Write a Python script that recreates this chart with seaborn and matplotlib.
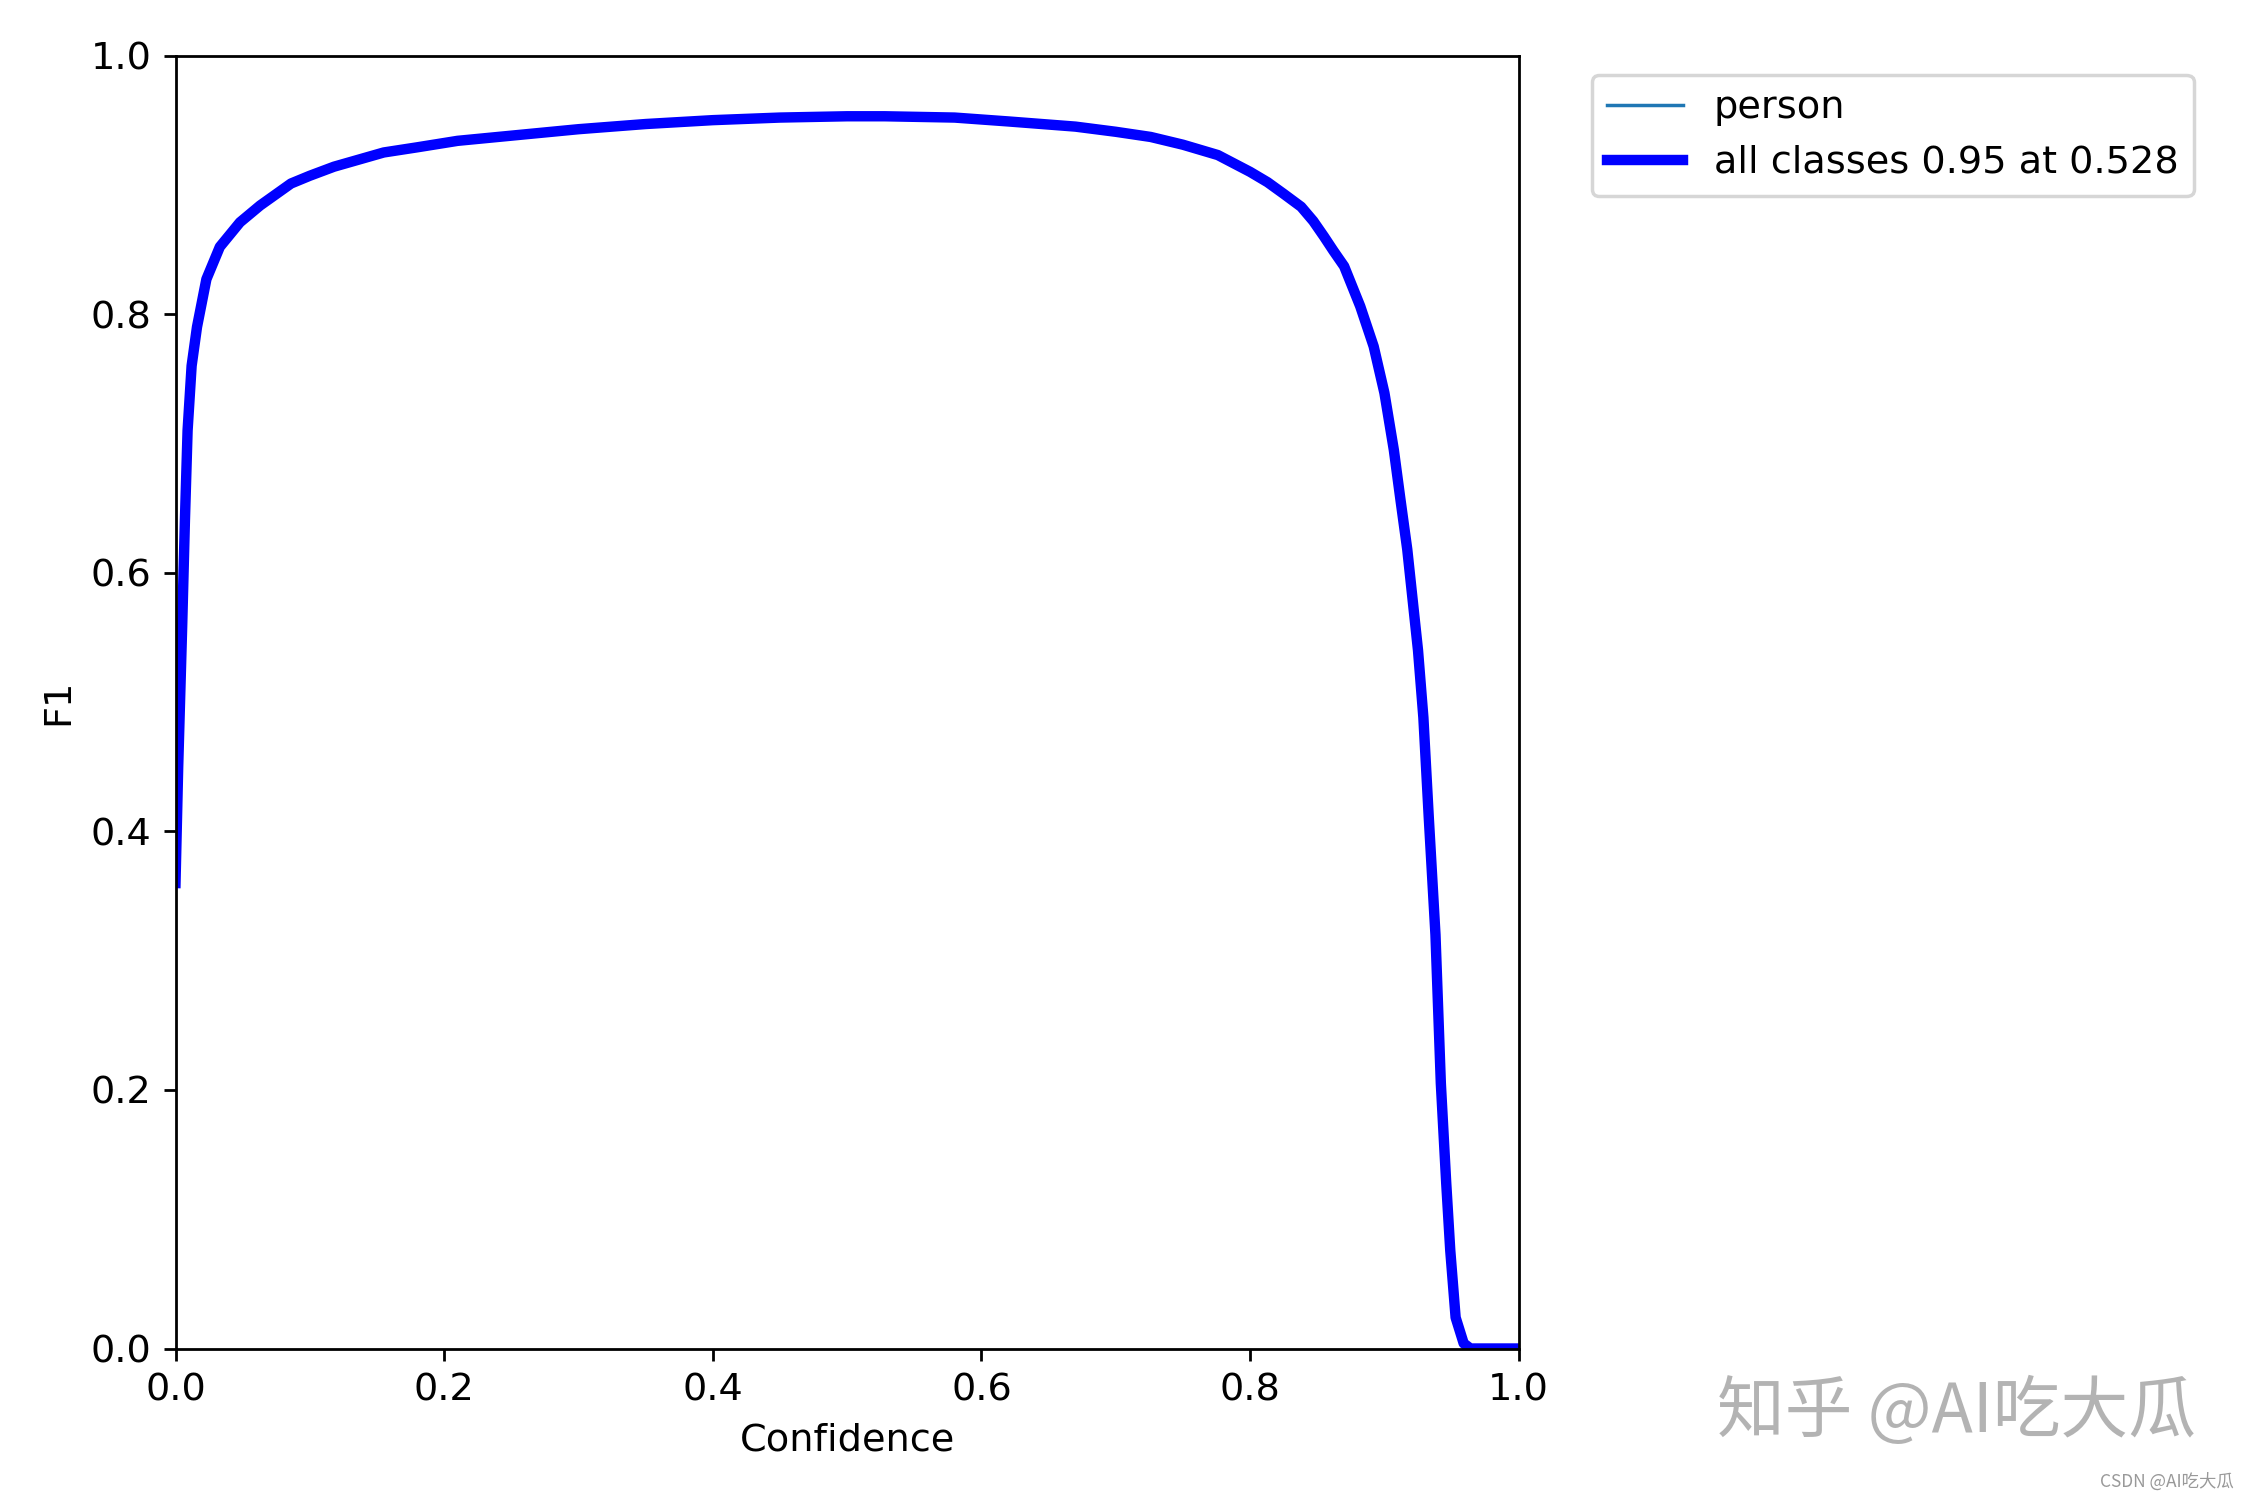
import matplotlib
matplotlib.use("Agg")
import matplotlib.pyplot as plt
import seaborn as sns
import pandas as pd

# confidence / F1 points
confidence = [0.0, 0.002, 0.005, 0.007, 0.009, 0.012, 0.016, 0.023, 0.033, 0.048,
              0.063, 0.086, 0.10, 0.118, 0.155, 0.18, 0.21, 0.23, 0.28, 0.30,
              0.35, 0.40, 0.45, 0.50, 0.528, 0.58, 0.62, 0.67, 0.70, 0.726,
              0.75, 0.776, 0.80, 0.813, 0.825, 0.838, 0.847, 0.855, 0.862, 0.870,
              0.882, 0.892, 0.900, 0.907, 0.912, 0.917, 0.925, 0.929, 0.933, 0.938,
              0.942, 0.946, 0.949, 0.953, 0.959, 0.964, 1.0]
f1 = [0.36, 0.45, 0.56, 0.64, 0.71, 0.76, 0.79, 0.827, 0.852, 0.871,
      0.884, 0.901, 0.907, 0.914, 0.925, 0.929, 0.934, 0.936, 0.941, 0.943,
      0.947, 0.950, 0.952, 0.953, 0.953, 0.952, 0.949, 0.945, 0.941, 0.937,
      0.931, 0.923, 0.910, 0.902, 0.893, 0.883, 0.872, 0.860, 0.849, 0.837,
      0.806, 0.775, 0.739, 0.695, 0.656, 0.618, 0.540, 0.488, 0.411, 0.320,
      0.205, 0.128, 0.076, 0.024, 0.004, 0.0, 0.0]
class_name = "person"
best_f1 = 0.95
best_conf = 0.528

df = pd.DataFrame({"Confidence": confidence, "F1": f1})

plt.rcParams["font.size"] = 11

fig, ax = plt.subplots(1, 1, figsize=(9, 6), dpi=250)
sns.lineplot(data=df, x="Confidence", y="F1", ax=ax, linewidth=1, color="C0",
             label=class_name, sort=False)
sns.lineplot(data=df, x="Confidence", y="F1", ax=ax, linewidth=3, color="blue",
             label=f"all classes {best_f1:.2f} at {best_conf:.3f}", sort=False)
ax.set_xlabel("Confidence")
ax.set_ylabel("F1")
ax.set_xlim(0, 1)
ax.set_ylim(0, 1)
ax.legend(bbox_to_anchor=(1.04, 1), loc="upper left")
fig.subplots_adjust(left=0.078, right=0.675, top=0.963, bottom=0.101)

# watermarks
fig.text(0.763, 0.058, "知乎 @AI吃大瓜", fontsize=19.5, color="#b3b3b3", va="center",
         family=["Noto Sans CJK SC", "DejaVu Sans"])
fig.text(0.993, 0.012, "CSDN @AI吃大瓜", fontsize=5, color="#999999", va="center",
         ha="right", family=["Noto Sans CJK SC", "DejaVu Sans"])

fig.savefig("out.png", dpi=250)
